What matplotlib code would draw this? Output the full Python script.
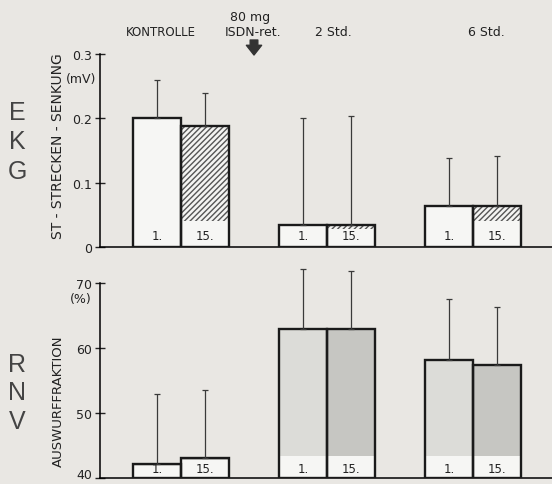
import matplotlib
matplotlib.use("Agg")
import matplotlib.pyplot as plt
import numpy as np

# Werte
gruppen = ["KONTROLLE", "2 Std.", "6 Std."]
tag_labels = ["1.", "15."]

st_tag1 = [0.200, 0.034, 0.064]
st_tag1_sd = [0.059, 0.166, 0.074]
st_tag15 = [0.188, 0.034, 0.064]
st_tag15_sd = [0.051, 0.169, 0.077]

ef_tag1 = [42.2, 62.9, 58.2]
ef_tag1_sd = [10.7, 9.3, 9.3]
ef_tag15 = [43.1, 62.9, 57.4]
ef_tag15_sd = [10.4, 8.9, 8.9]

hintergrund = "#e9e7e3"
schrift = ["DejaVu Sans Condensed", "Liberation Sans Narrow", "DejaVu Sans"]
plt.rcParams["font.family"] = schrift

W, H = 552, 485
fig = plt.figure(figsize=(W / 100, H / 100), dpi=100, facecolor=hintergrund)


def px(x, y):
    return x / W, 1 - y / H


ax1 = fig.add_axes([100 / W, 237 / H, 452 / W, 193 / H])
ax2 = fig.add_axes([100 / W, 6 / H, 452 / W, 214.5 / H])

x = np.arange(len(gruppen))
b = 48 / 146
xlim = (-81 / 146, 371 / 146)


def balken(ax, werte, sd, label_h, min_band, fill, hatch, label_y):
    for i, (v, s) in enumerate(zip(werte, sd)):
        xc = x[i] + (b / 2 if "15" in label_y[1] else -b / 2)
        unten = ax.get_ylim()[0]
        ax.bar(xc, v - unten, b, bottom=unten, color="#f6f6f4", edgecolor="none", zorder=2)
        fb = min(unten + label_h, v - min_band)
        if fill is not None:
            ax.bar(xc, v - fb, b, bottom=fb, color=fill, edgecolor="#555555",
                   linewidth=0, hatch=hatch, zorder=3)
        ax.bar(xc, v - unten, b, bottom=unten, fill=False, edgecolor="#1a1a1a",
               linewidth=1.7, zorder=4)
        ax.errorbar(xc, v, yerr=[[0], [s]], fmt="none", ecolor="#3a3a3a",
                    elinewidth=0.9, capsize=2.2, capthick=0.9, zorder=5, clip_on=False)
        ax.text(xc, unten + label_y[0], label_y[1], ha="center", va="center",
                fontsize=8.5, color="#222222", zorder=6)


for ax in (ax1, ax2):
    ax.set_facecolor("none")
    ax.set_xlim(*xlim)
    ax.spines["top"].set_visible(False)
    ax.spines["right"].set_visible(False)
    ax.spines["left"].set_linewidth(1.1)
    ax.spines["bottom"].set_linewidth(1.1)
    ax.set_xticks([])
    ax.tick_params(axis="y", direction="inout", length=7, width=1, labelsize=9,
                   colors="#222222", pad=2)

ax1.set_ylim(0, 0.3)
ax1.set_yticks([0, 0.1, 0.2, 0.3])
ax1.set_yticklabels(["0", "0.1", "0.2", "0.3"])
balken(ax1, st_tag1, st_tag1_sd, 0.04, 0.006, None, None, (0.018, "1."))
balken(ax1, st_tag15, st_tag15_sd, 0.04, 0.006, "#f4f4f2", "//////", (0.018, "15."))

ax2.set_ylim(40, 73)
ax2.spines["left"].set_bounds(40, 70)
ax2.set_yticks([40, 50, 60, 70])
ax2.set_yticklabels(["40", "50", "60", "70"])
ax2.get_yticklabels()[0].set_va("baseline")
balken(ax2, ef_tag1, ef_tag1_sd, 3.4, 0.3, "#dcdcd8", None, (1.5, "1."))
balken(ax2, ef_tag15, ef_tag15_sd, 3.4, 0.3, "#c6c6c2", None, (1.5, "15."))

# Beschriftungen oben
fig.text(*px(161, 32), gruppen[0], ha="center", va="center", fontsize=8.5, color="#222222")
fig.text(*px(250, 18), "80 mg", ha="center", va="center", fontsize=9, color="#222222")
fig.text(*px(253, 32), "ISDN-ret.", ha="center", va="center", fontsize=9, color="#222222")
fig.text(*px(333, 32), gruppen[1], ha="center", va="center", fontsize=9, color="#222222")
fig.text(*px(486, 32), gruppen[2], ha="center", va="center", fontsize=9, color="#222222")
ax1.annotate("", xy=px(254, 56), xytext=px(254, 41), xycoords="figure fraction",
             textcoords="figure fraction",
             arrowprops=dict(arrowstyle="simple,head_width=1.1,head_length=0.7,tail_width=0.55",
                             color="#333333", shrinkA=0, shrinkB=0))

# Achsentitel
fig.text(*px(58, 146), "ST - STRECKEN - SENKUNG", rotation=90, ha="center", va="center",
         fontsize=10, color="#222222")
fig.text(*px(81, 80), "(mV)", ha="center", va="center", fontsize=9, color="#222222")
fig.text(*px(58, 401), "AUSWURFFRAKTION", rotation=90, ha="center", va="center",
         fontsize=9.5, color="#222222")
fig.text(*px(81, 300), "(%)", ha="center", va="center", fontsize=9, color="#222222")

for buchstabe, yy in zip("EKG", [113, 142, 172]):
    fig.text(*px(17, yy), buchstabe, ha="center", va="center", fontsize=18,
             color="#444444", family=["Liberation Sans", "DejaVu Sans"])
for buchstabe, yy in zip("RNV", [365, 393, 422]):
    fig.text(*px(17, yy), buchstabe, ha="center", va="center", fontsize=18,
             color="#444444", family=["Liberation Sans", "DejaVu Sans"])

fig.savefig("out.png", dpi=100, facecolor=hintergrund)
